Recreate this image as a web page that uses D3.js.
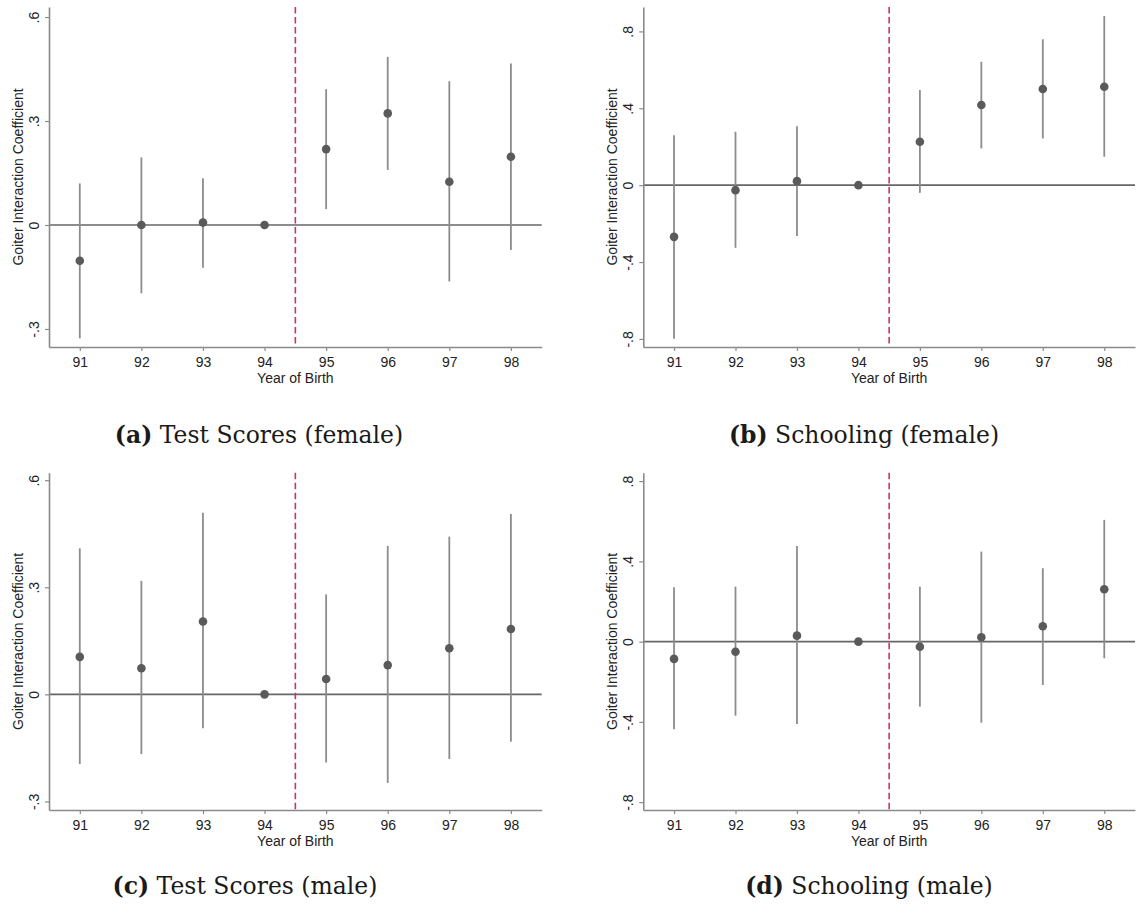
<!DOCTYPE html>
<html>
<head>
<meta charset="utf-8">
<script src="https://cdn.jsdelivr.net/npm/d3@7"></script>
<style>
  html, body { margin: 0; padding: 0; background: #fff; }
  svg { display: block; }
  .tick text { font-family: "Liberation Sans", Arial, sans-serif; font-size: 14px; fill: #222; }
  .axisTitle { font-family: "Liberation Sans", Arial, sans-serif; font-size: 14px; fill: #222; }
  .caption { font-family: "DejaVu Serif", "Liberation Serif", serif; font-size: 23.5px; fill: #1a1a1a; }
</style>
</head>
<body>
<div id="chart"></div>
<script>
// years of birth on the x axis
const years = [91, 92, 93, 94, 95, 96, 97, 98];
const cutoffYear = 94.5;

// (a) test scores, female
const testFemaleCoef = [-0.103, 0.000, 0.007, 0, 0.219, 0.322, 0.125, 0.197];
const testFemaleLo   = [-0.327, -0.197, -0.123, null, 0.046, 0.159, -0.163, -0.072];
const testFemaleHi   = [0.120, 0.195, 0.135, null, 0.392, 0.485, 0.415, 0.466];

// (b) schooling, female
const schoolFemaleCoef = [-0.269, -0.026, 0.021, 0, 0.226, 0.417, 0.500, 0.512];
const schoolFemaleLo   = [-0.799, -0.326, -0.264, null, -0.040, 0.191, 0.243, 0.148];
const schoolFemaleHi   = [0.260, 0.278, 0.307, null, 0.495, 0.642, 0.759, 0.880];

// (c) test scores, male
const testMaleCoef = [0.105, 0.073, 0.204, 0, 0.043, 0.082, 0.129, 0.183];
const testMaleLo   = [-0.195, -0.167, -0.095, null, -0.191, -0.248, -0.181, -0.133];
const testMaleHi   = [0.409, 0.318, 0.509, null, 0.280, 0.416, 0.442, 0.505];

// (d) schooling, male
const schoolMaleCoef = [-0.086, -0.050, 0.030, 0, -0.025, 0.022, 0.077, 0.261];
const schoolMaleLo   = [-0.437, -0.369, -0.410, null, -0.324, -0.404, -0.216, -0.083];
const schoolMaleHi   = [0.271, 0.274, 0.477, null, 0.274, 0.449, 0.366, 0.607];

// tick labels
const testTicks = [-0.3, 0, 0.3, 0.6];
const schoolTicks = [-0.8, -0.4, 0, 0.4, 0.8];

const captionTags = ["(a)", "(b)", "(c)", "(d)"];
const captionTexts = ["Test Scores (female)", "Schooling (female)", "Test Scores (male)", "Schooling (male)"];

const yTitle = "Goiter Interaction Coefficient";
const xTitle = "Year of Birth";

const W = 1137, H = 916;

// layout of each panel (pixels)
let panels = [
  { left: 49,    right: 541.7, top: 7,     bottom: 347, yDomain: [-0.352, 0.629], ticks: testTicks,
    coef: testFemaleCoef, lo: testFemaleLo, hi: testFemaleHi, capX: 259, capY: 443 },
  { left: 643.3, right: 1135,  top: 7,     bottom: 347, yDomain: [-0.842, 0.927], ticks: schoolTicks,
    coef: schoolFemaleCoef, lo: schoolFemaleLo, hi: schoolFemaleHi, capX: 864, capY: 443 },
  { left: 49,    right: 541.7, top: 472.7, bottom: 810, yDomain: [-0.324, 0.621], ticks: testTicks,
    coef: testMaleCoef, lo: testMaleLo, hi: testMaleHi, capX: 245, capY: 894 },
  { left: 643.3, right: 1135,  top: 472.7, bottom: 810, yDomain: [-0.839, 0.842], ticks: schoolTicks,
    coef: schoolMaleCoef, lo: schoolMaleLo, hi: schoolMaleHi, capX: 869, capY: 894 },
];

const svg = d3.select("#chart").append("svg")
  .attr("width", W)
  .attr("height", H);

// stata style: ".3", "-.3", "0"
let fmt = d => d === 0 ? "0" : d3.format(".1f")(d).replace("\u2212", "-").replace("0.", ".");

panels.forEach((p, i) => {
  let x = d3.scaleLinear().domain([90.5, 98.5]).range([p.left, p.right]);
  let y = d3.scaleLinear().domain(p.yDomain).range([p.bottom, p.top]);
  let g = svg.append("g").attr("class", "panel");

  // zero reference line
  g.append("line")
    .attr("x1", x(90.5)).attr("x2", x(98.5))
    .attr("y1", y(0)).attr("y2", y(0))
    .attr("stroke", "#666").attr("stroke-width", 1.6);

  // x axis
  let xAxis = g.append("g")
    .attr("transform", `translate(0,${p.bottom})`)
    .call(d3.axisBottom(x).tickValues(years).tickFormat(d3.format("d")).tickSize(4).tickSizeOuter(0).tickPadding(6));
  xAxis.select(".domain").attr("stroke", "#8a8a8a").attr("stroke-width", 1.6);
  xAxis.selectAll(".tick line").attr("stroke", "#8a8a8a").attr("stroke-width", 1.2);

  // y axis
  let yAxis = g.append("g")
    .attr("transform", `translate(${p.left},0)`)
    .call(d3.axisLeft(y).tickValues(p.ticks).tickFormat(fmt).tickSize(4).tickSizeOuter(0));
  yAxis.select(".domain").attr("stroke", "#8a8a8a").attr("stroke-width", 1.6);
  yAxis.selectAll(".tick line").attr("stroke", "#8a8a8a").attr("stroke-width", 1.2);
  yAxis.selectAll(".tick text")
    .attr("x", null).attr("dy", null)
    .attr("text-anchor", "middle")
    .attr("transform", "translate(-10,0) rotate(-90)");

  // axis titles
  g.append("text")
    .attr("class", "axisTitle")
    .attr("text-anchor", "middle")
    .attr("x", (p.left + p.right) / 2)
    .attr("y", p.bottom + 35.5)
    .text(xTitle);
  g.append("text")
    .attr("class", "axisTitle")
    .attr("text-anchor", "middle")
    .attr("transform", `translate(${p.left - 26.5},${(p.top + p.bottom) / 2}) rotate(-90)`)
    .text(yTitle);

  // cutoff line between 94 and 95
  g.append("line")
    .attr("x1", x(cutoffYear)).attr("x2", x(cutoffYear))
    .attr("y1", p.top).attr("y2", p.bottom)
    .attr("stroke", "#cc3366").attr("stroke-width", 1.6)
    .attr("stroke-dasharray", "6.5,3.5");

  // confidence intervals
  let rows = years.map((yr, j) => ({ yr: yr, c: p.coef[j], lo: p.lo[j], hi: p.hi[j] }));
  g.selectAll("line.ci")
    .data(rows.filter(d => d.lo !== null))
    .join("line")
    .attr("class", "ci")
    .attr("x1", d => x(d.yr)).attr("x2", d => x(d.yr))
    .attr("y1", d => y(d.lo)).attr("y2", d => y(d.hi))
    .attr("stroke", "#8c8c8c").attr("stroke-width", 1.8);

  // point estimates
  g.selectAll("circle.pt")
    .data(rows)
    .join("circle")
    .attr("class", "pt")
    .attr("cx", d => x(d.yr)).attr("cy", d => y(d.c))
    .attr("r", 4.3)
    .attr("fill", "#5a5a5a");

  // caption
  let cap = svg.append("text")
    .attr("class", "caption")
    .attr("text-anchor", "middle")
    .attr("x", p.capX).attr("y", p.capY);
  cap.append("tspan").attr("font-weight", "bold").text(captionTags[i]);
  cap.append("tspan").text(" " + captionTexts[i]);
});
</script>
</body>
</html>
